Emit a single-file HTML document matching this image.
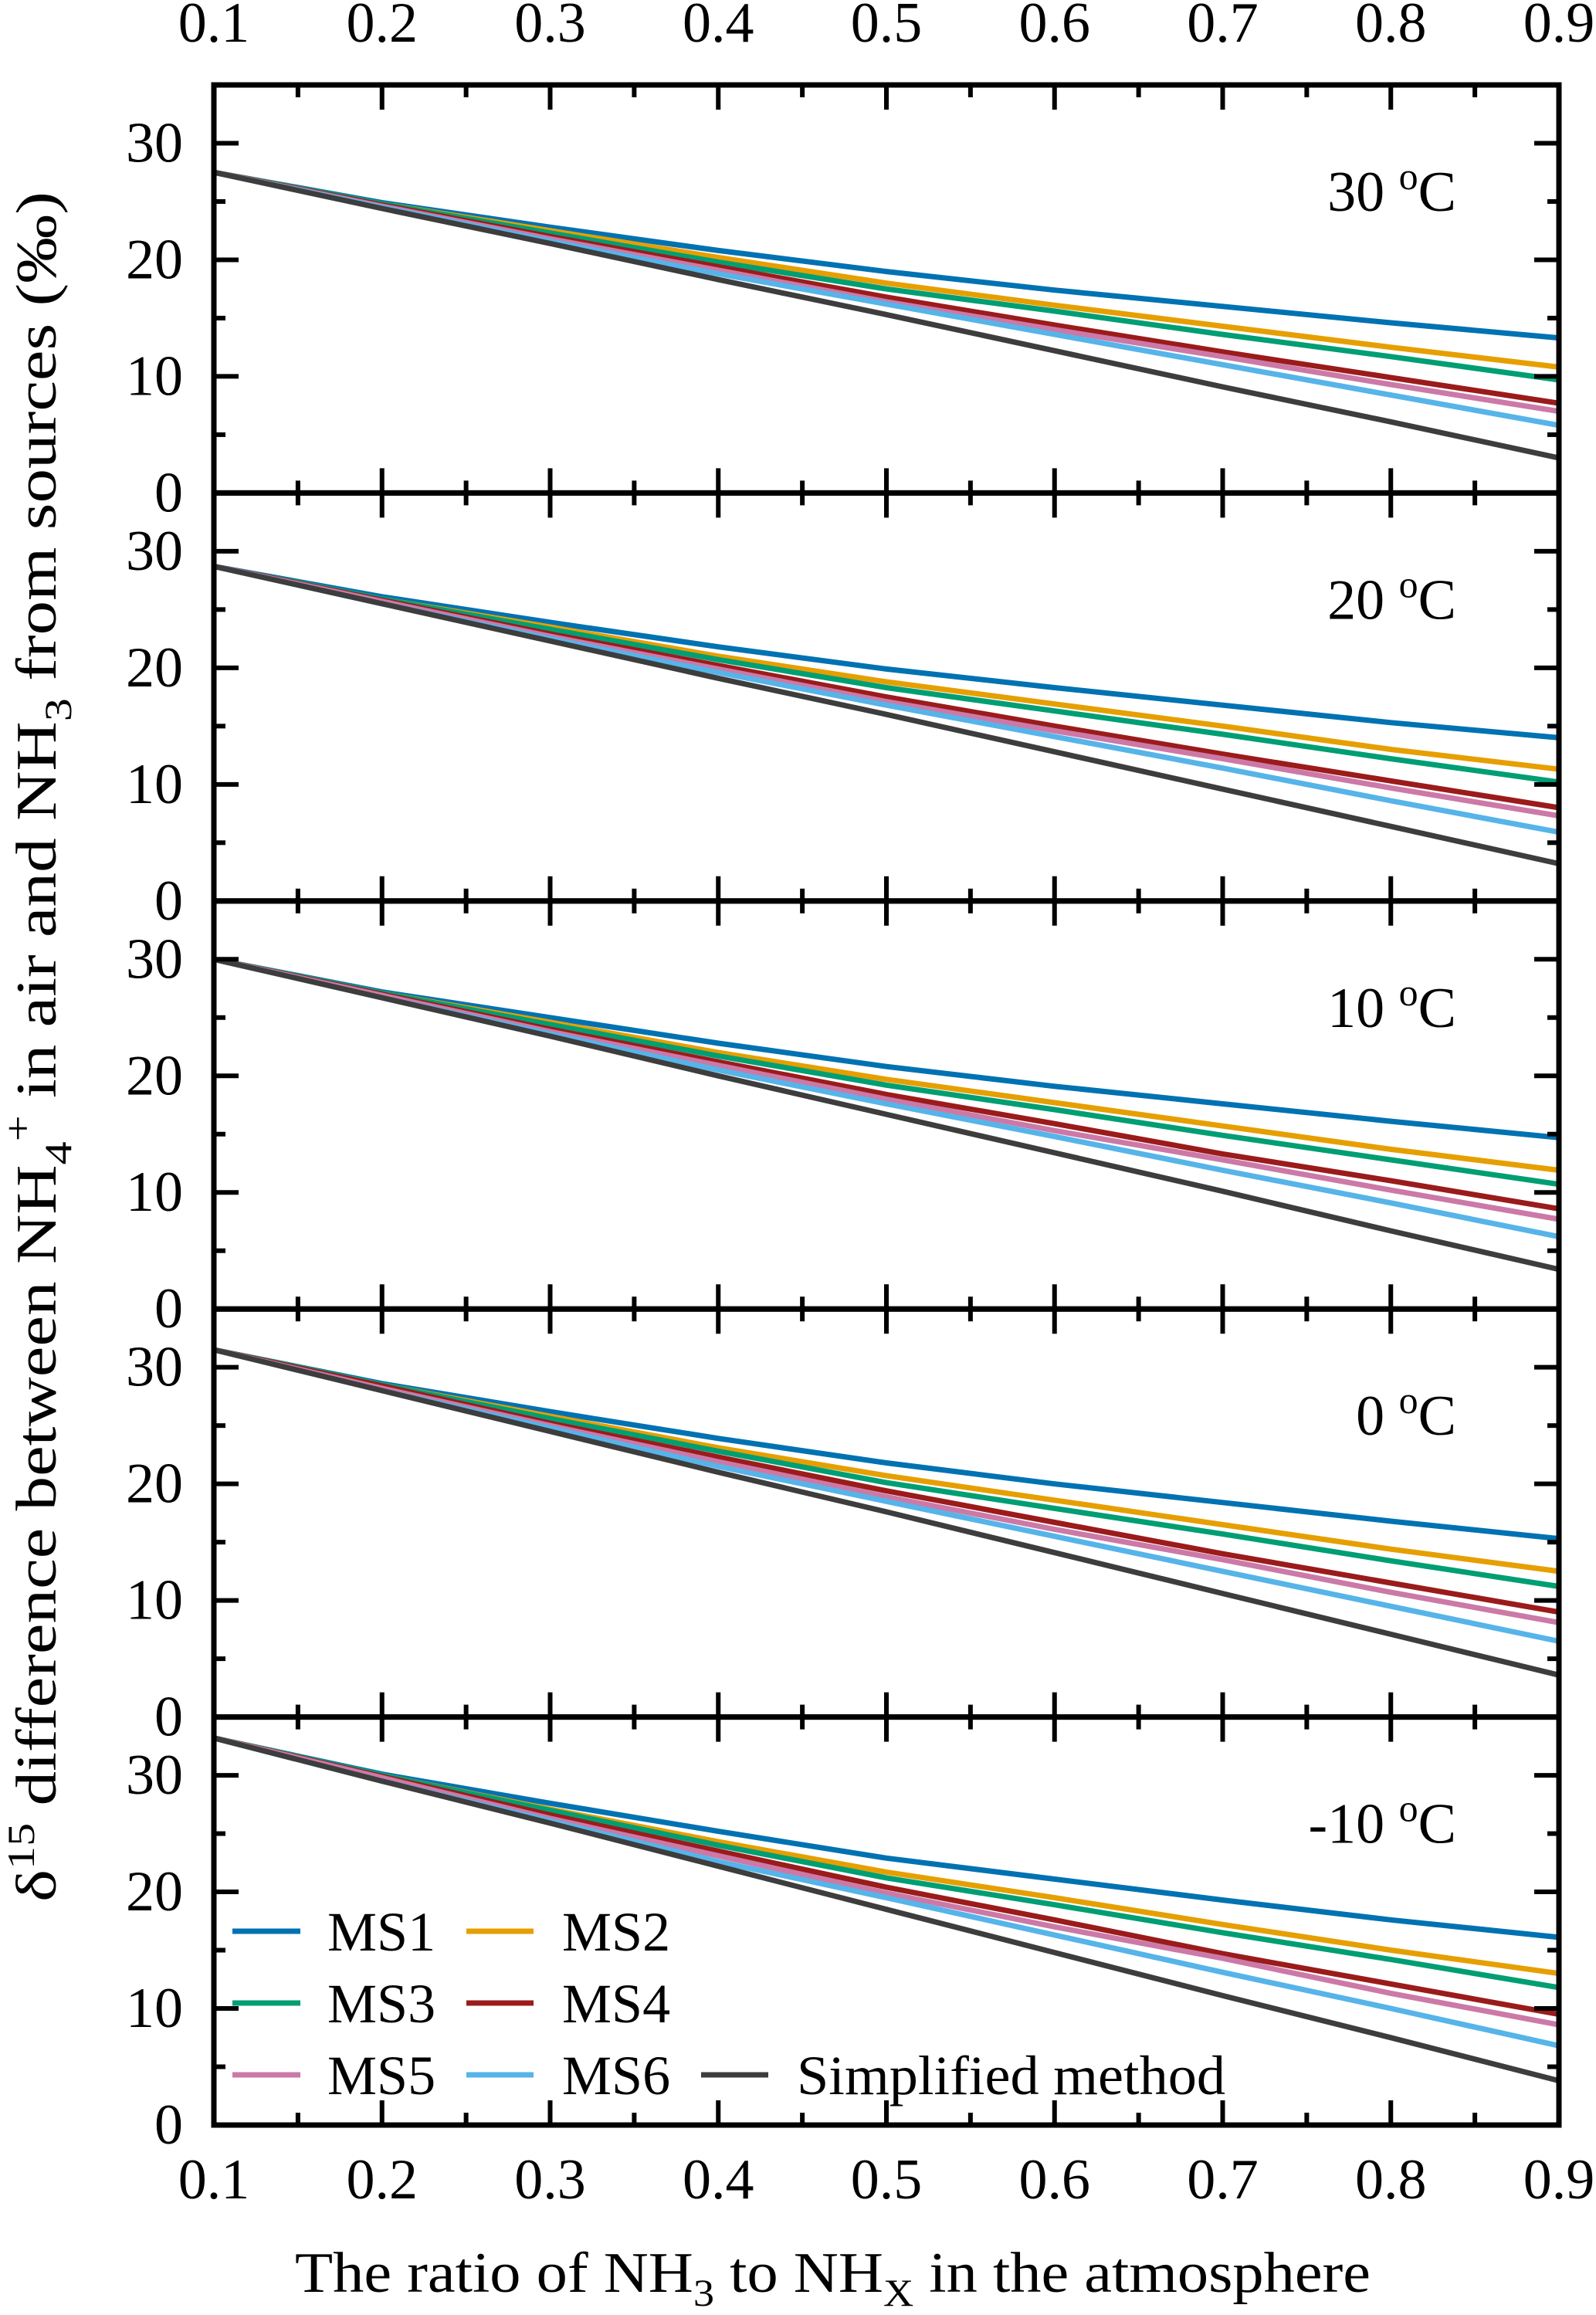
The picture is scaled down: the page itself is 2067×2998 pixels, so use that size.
<!DOCTYPE html>
<html><head><meta charset="utf-8"><style>
html,body{margin:0;padding:0;background:#fff;}
svg, svg text{font-family:"Liberation Serif","Times New Roman",serif;}
</style></head><body>
<svg id="chart" xmlns="http://www.w3.org/2000/svg" width="2067" height="2993" viewBox="0 0 2067 2993" font-family="Liberation Serif, serif">
<g id="marks"></g>
<g id="axes"></g>
<text transform="translate(72,2463) rotate(-90)" text-anchor="start" font-size="74" textLength="2215" lengthAdjust="spacingAndGlyphs">δ<tspan font-size="50" dy="-28">15</tspan><tspan dy="28"> difference between NH</tspan><tspan font-size="50" dy="20">4</tspan><tspan font-size="50" dy="-52">+</tspan><tspan dy="32"> in air and NH</tspan><tspan font-size="50" dy="20">3</tspan><tspan dy="-20"> from sources (‰)</tspan></text>
<text x="382" y="2968" font-size="74" textLength="1393" lengthAdjust="spacingAndGlyphs">The ratio of NH<tspan font-size="50" dy="18">3</tspan><tspan dy="-18"> to NH</tspan><tspan font-size="50" dy="18">X</tspan><tspan dy="-18"> in the atmosphere</tspan></text>
<g font-size="72">
<line x1="301" x2="389" y1="2501" y2="2501" stroke="#0072b2" stroke-width="7"/>
<text x="424" y="2526">MS1</text>
<line x1="604" x2="691" y1="2501" y2="2501" stroke="#e69f00" stroke-width="7"/>
<text x="728" y="2526">MS2</text>
<line x1="301" x2="389" y1="2594" y2="2594" stroke="#009e73" stroke-width="7"/>
<text x="424" y="2619">MS3</text>
<line x1="604" x2="691" y1="2594" y2="2594" stroke="#9b1b1b" stroke-width="7"/>
<text x="728" y="2619">MS4</text>
<line x1="301" x2="389" y1="2687" y2="2687" stroke="#cc79a7" stroke-width="7"/>
<text x="424" y="2712">MS5</text>
<line x1="604" x2="691" y1="2687" y2="2687" stroke="#56b4e9" stroke-width="7"/>
<text x="728" y="2712">MS6</text>
<line x1="908" x2="995" y1="2687" y2="2687" stroke="#3d3d3d" stroke-width="7"/>
<text x="1032" y="2712" textLength="555" lengthAdjust="spacingAndGlyphs">Simplified method</text>
</g>
</svg>
<script>
const xValues = [0.1,0.2,0.3,0.4,0.5,0.6,0.7,0.8,0.9];
const xTickLabels = ["0.1","0.2","0.3","0.4","0.5","0.6","0.7","0.8","0.9"];
const yTickValues = [0,10,20,30];
const panelLabels = ["30","20","10","0","-10"];
const seriesNames = ["MS1","MS2","MS3","MS4","MS5","MS6","Simplified method"];
const seriesColors = ["#0072b2","#e69f00","#009e73","#9b1b1b","#cc79a7","#56b4e9","#3d3d3d"];
const panel30 = [
 [27.5,24.9,22.8,20.8,19.0,17.4,16.0,14.6,13.3],
 [27.5,24.8,22.5,20.2,18.0,16.1,14.3,12.5,10.8],
 [27.5,24.8,22.3,19.8,17.5,15.6,13.6,11.7,9.7],
 [27.5,24.7,22.0,19.4,16.8,14.4,12.1,9.9,7.7],
 [27.5,24.6,21.8,19.1,16.4,14.0,11.7,9.3,7.0],
 [27.5,24.5,21.6,18.8,16.2,13.6,11.0,8.4,5.8],
 [27.5,24.4,21.4,18.3,15.3,12.2,9.1,6.1,3.0]];
const panel20 = [
 [28.7,26.1,23.9,21.8,19.9,18.3,16.8,15.3,14.0],
 [28.7,25.9,23.5,21.0,18.8,16.9,15.0,13.0,11.3],
 [28.7,25.9,23.3,20.7,18.3,16.3,14.3,12.2,10.2],
 [28.7,25.8,22.9,20.2,17.5,15.0,12.6,10.3,8.0],
 [28.7,25.7,22.7,19.9,17.1,14.6,12.2,9.7,7.3],
 [28.7,25.5,22.5,19.6,16.8,14.1,11.4,8.6,5.9],
 [28.7,25.5,22.3,19.1,16.0,12.8,9.6,6.4,3.2]];
const panel10 = [
 [30.0,27.2,25.0,22.8,20.8,19.1,17.6,16.1,14.7],
 [30.0,27.1,24.6,22.0,19.7,17.7,15.7,13.7,11.9],
 [30.0,27.1,24.4,21.7,19.2,17.1,14.9,12.8,10.7],
 [30.0,27.0,24.0,21.2,18.4,15.9,13.3,11.0,8.6],
 [30.0,26.9,23.8,20.9,18.0,15.3,12.8,10.2,7.7],
 [30.0,26.7,23.6,20.5,17.6,14.8,11.9,9.1,6.2],
 [30.0,26.7,23.4,20.0,16.7,13.4,10.1,6.7,3.4]];
const panel0 = [
 [31.5,28.6,26.2,23.9,21.8,20.0,18.4,16.8,15.3],
 [31.5,28.5,25.8,23.1,20.7,18.6,16.5,14.4,12.5],
 [31.5,28.5,25.6,22.8,20.1,17.9,15.7,13.4,11.2],
 [31.5,28.4,25.2,22.3,19.4,16.7,14.0,11.5,9.0],
 [31.5,28.2,25.0,21.9,18.9,16.1,13.5,10.7,8.1],
 [31.5,28.0,24.8,21.5,18.5,15.5,12.5,9.5,6.5],
 [31.5,28.0,24.5,21.0,17.6,14.1,10.6,7.1,3.6]];
const panelM10 = [
 [33.2,30.1,27.6,25.2,22.9,21.1,19.3,17.6,16.1],
 [33.2,30.0,27.1,24.3,21.7,19.5,17.2,15.0,13.0],
 [33.2,30.0,27.0,24.0,21.2,18.9,16.5,14.2,11.8],
 [33.2,29.9,26.6,23.5,20.4,17.6,14.7,12.1,9.5],
 [33.2,29.8,26.3,23.1,19.9,17.0,14.3,11.3,8.6],
 [33.2,29.5,26.1,22.6,19.5,16.3,13.1,10.0,6.8],
 [33.2,29.5,25.9,22.2,18.5,14.8,11.1,7.5,3.8]];
const panels = [panel30,panel20,panel10,panel0,panelM10];

const NS="http://www.w3.org/2000/svg";
const L=277,R=2019,T=110,B=2752,PH=(B-T)/5,YMAX=35;
const xs=v=>L+(v-0.1)/0.8*(R-L);
const ysFor=i=>v=>T+PH*(i+1)-v/YMAX*PH;
const marks=document.getElementById('marks'), axes=document.getElementById('axes');
function mk(tag,parent,attrs){const e=document.createElementNS(NS,tag);for(const k in attrs)e.setAttribute(k,attrs[k]);parent.appendChild(e);return e;}

panels.forEach((pd,pi)=>{
  const ys=ysFor(pi);
  const g=mk('g',marks,{});
  
  
  pd.forEach((vals,si)=>{
    const d=vals.map((v,j)=>(j?'L':'M')+xs(xValues[j]).toFixed(1)+','+ys(v).toFixed(1)).join(' ');
    const p=mk('path',g,{d:d,fill:'none',stroke:seriesColors[si],'stroke-width':7,'stroke-linejoin':'round'});
    
    
  });
  const top=T+PH*pi, bot=top+PH;
  const fr=mk('rect',axes,{x:L,y:top,width:R-L,height:PH,fill:'none',stroke:'#000','stroke-width':7});
  
  
  for(let k=0;k<=16;k++){
    const v=0.1+k*0.05, x=xs(v), len=k%2===0?32:16;
    mk('line',axes,{x1:x,x2:x,y1:bot,y2:bot-len,stroke:'#000','stroke-width':6});
    mk('line',axes,{x1:x,x2:x,y1:top,y2:top+len,stroke:'#000','stroke-width':6});
  }
  for(let v=5;v<=30;v+=5){
    const y=ys(v), len=v%10===0?32:15;
    mk('line',axes,{x1:L,x2:L+len,y1:y,y2:y,stroke:'#000','stroke-width':6});
    mk('line',axes,{x1:R,x2:R-len,y1:y,y2:y,stroke:'#000','stroke-width':6});
  }
  yTickValues.forEach(v=>{
    const t=mk('text',axes,{x:237,y:ys(v)+24,'text-anchor':'end','font-size':74});
    t.textContent=String(v);
    
    
  });
  const lab=mk('text',axes,{x:1886,y:top+163,'text-anchor':'end','font-size':74});
  
  
  const t1=mk('tspan',lab,{}); t1.textContent=panelLabels[pi]+' ';
  const t2=mk('tspan',lab,{'font-size':50,dy:-28}); t2.textContent='o';
  const t3=mk('tspan',lab,{dy:28}); t3.textContent='C';
});
xTickLabels.forEach((s,j)=>{
  const x=xs(xValues[j]);
  const a=mk('text',axes,{x:x,y:54,'text-anchor':'middle','font-size':74}); a.textContent=s;
  
  
  const b=mk('text',axes,{x:x,y:2847,'text-anchor':'middle','font-size':74}); b.textContent=s;
  
  
});
</script>
</body></html>
